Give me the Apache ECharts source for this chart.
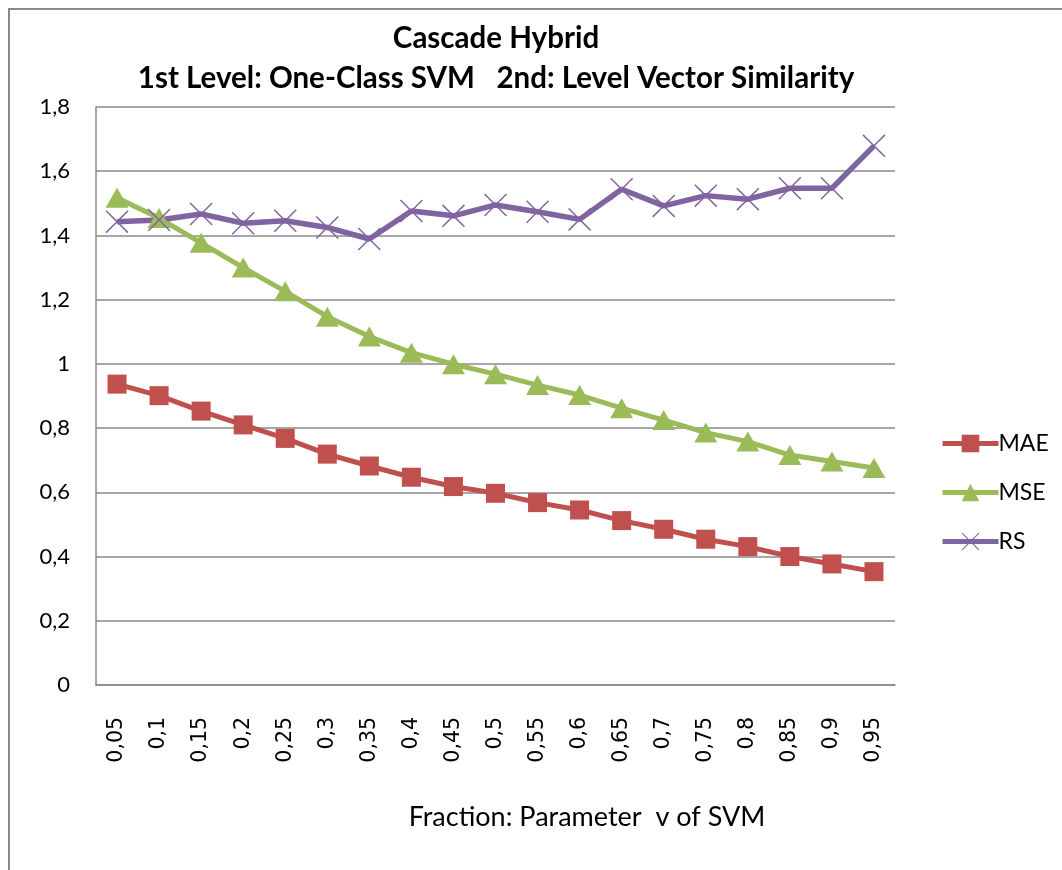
<!DOCTYPE html>
<html>
<head>
<meta charset="utf-8">
<title>Cascade Hybrid</title>
<script src="https://cdn.jsdelivr.net/npm/echarts@6/dist/echarts.min.js"></script>
<style>
  html, body { margin: 0; padding: 0; background: #fff; }
  #frame {
    position: absolute; left: 8px; top: 8px; width: 1070px; height: 880px;
    border: 2px solid #8a8a8a; box-sizing: border-box;
  }
  #chart { position: absolute; left: 0; top: 0; width: 1062px; height: 870px; }
</style>
</head>
<body>
<div id="frame"></div>
<div id="chart"></div>
<script>
// fraction nu of the one-class SVM
var categories = ["0,05", "0,1", "0,15", "0,2", "0,25", "0,3", "0,35", "0,4", "0,45", "0,5",
  "0,55", "0,6", "0,65", "0,7", "0,75", "0,8", "0,85", "0,9", "0,95"];

var maeValues = [0.937, 0.901, 0.853, 0.81, 0.768, 0.719, 0.682, 0.647, 0.618, 0.597,
  0.568, 0.545, 0.512, 0.485, 0.454, 0.431, 0.40, 0.377, 0.353];
var mseValues = [1.517, 1.454, 1.377, 1.30, 1.226, 1.147, 1.085, 1.035, 0.999, 0.968,
  0.934, 0.903, 0.862, 0.825, 0.786, 0.758, 0.716, 0.696, 0.676];
var rsValues = [1.443, 1.448, 1.467, 1.438, 1.446, 1.425, 1.389, 1.476, 1.461, 1.495,
  1.474, 1.45, 1.544, 1.492, 1.524, 1.513, 1.547, 1.547, 1.679];

var yTicks = { min: 0, max: 1.8, step: 0.2 };

// thin "x" marker, drawn as a filled outline
var crossPath = "path://M0,0.45 L0.45,0 L5,4.55 L9.55,0 L10,0.45 L5.45,5 L10,9.55 L9.55,10 L5,5.45 L0.45,10 L0,9.55 L4.55,5 Z";

var chart = echarts.init(document.getElementById("chart"));

chart.setOption({
  animation: false,
  title: [{
    text: "Cascade Hybrid\n1st Level: One-Class SVM   2nd: Level Vector Similarity",
    left: 491,
    top: 13,
    textAlign: "center",
    textStyle: {
      fontFamily: "Lato",
      fontWeight: "bold",
      fontSize: 29.5,
      lineHeight: 40,
      color: "#000"
    }
  }, {
    // x axis caption sits off-centre, right of the plot middle
    text: "Fraction: Parameter  v of SVM",
    left: 582,
    top: 799,
    textAlign: "center",
    textStyle: {
      fontFamily: "Lato",
      fontWeight: "normal",
      fontSize: 27,
      color: "#000"
    }
  }],
  legend: {
    orient: "vertical",
    left: 935,
    top: 427,
    itemWidth: 56,
    itemHeight: 22,
    itemGap: 26,
    lineStyle: { width: 5 },
    textStyle: { fontFamily: "Lato", fontSize: 23, color: "#000", padding: [0, 0, 0, -5] },
    data: ["MAE", "MSE", "RS"]
  },
  grid: { left: 96, right: 167, top: 107, bottom: 185, containLabel: false },
  xAxis: {
    type: "category",
    data: categories,
    boundaryGap: true,
    axisLine: { lineStyle: { color: "#8a8a8a", width: 1.5 } },
    axisTick: { show: false },
    axisLabel: {
      rotate: 90,
      margin: 32,
      interval: 0,
      fontFamily: "DejaVu Sans",
      fontSize: 20.5,
      color: "#000"
    }
  },
  yAxis: {
    type: "value",
    min: yTicks.min,
    max: yTicks.max,
    interval: yTicks.step,
    axisLine: { show: true, lineStyle: { color: "#8a8a8a", width: 1.5 } },
    axisTick: { show: false },
    splitLine: { lineStyle: { color: "#8a8a8a", width: 1.5 } },
    axisLabel: {
      margin: 26,
      fontFamily: "Lato",
      fontSize: 22,
      color: "#000",
      formatter: function (v) { return String(+v.toFixed(1)).replace(".", ","); }
    }
  },
  series: [
    {
      name: "MAE",
      type: "line",
      data: maeValues,
      symbol: "rect",
      symbolSize: 19,
      lineStyle: { color: "#C0504D", width: 5 },
      itemStyle: { color: "#C0504D" }
    },
    {
      name: "MSE",
      type: "line",
      data: mseValues,
      symbol: "triangle",
      symbolSize: [23, 20],
      lineStyle: { color: "#9BBB59", width: 5 },
      itemStyle: { color: "#9BBB59" }
    },
    {
      name: "RS",
      type: "line",
      data: rsValues,
      symbol: crossPath,
      symbolSize: 23,
      lineStyle: { color: "#8064A2", width: 5.5 },
      itemStyle: { color: "#8064A2" }
    }
  ]
});
</script>
</body>
</html>
